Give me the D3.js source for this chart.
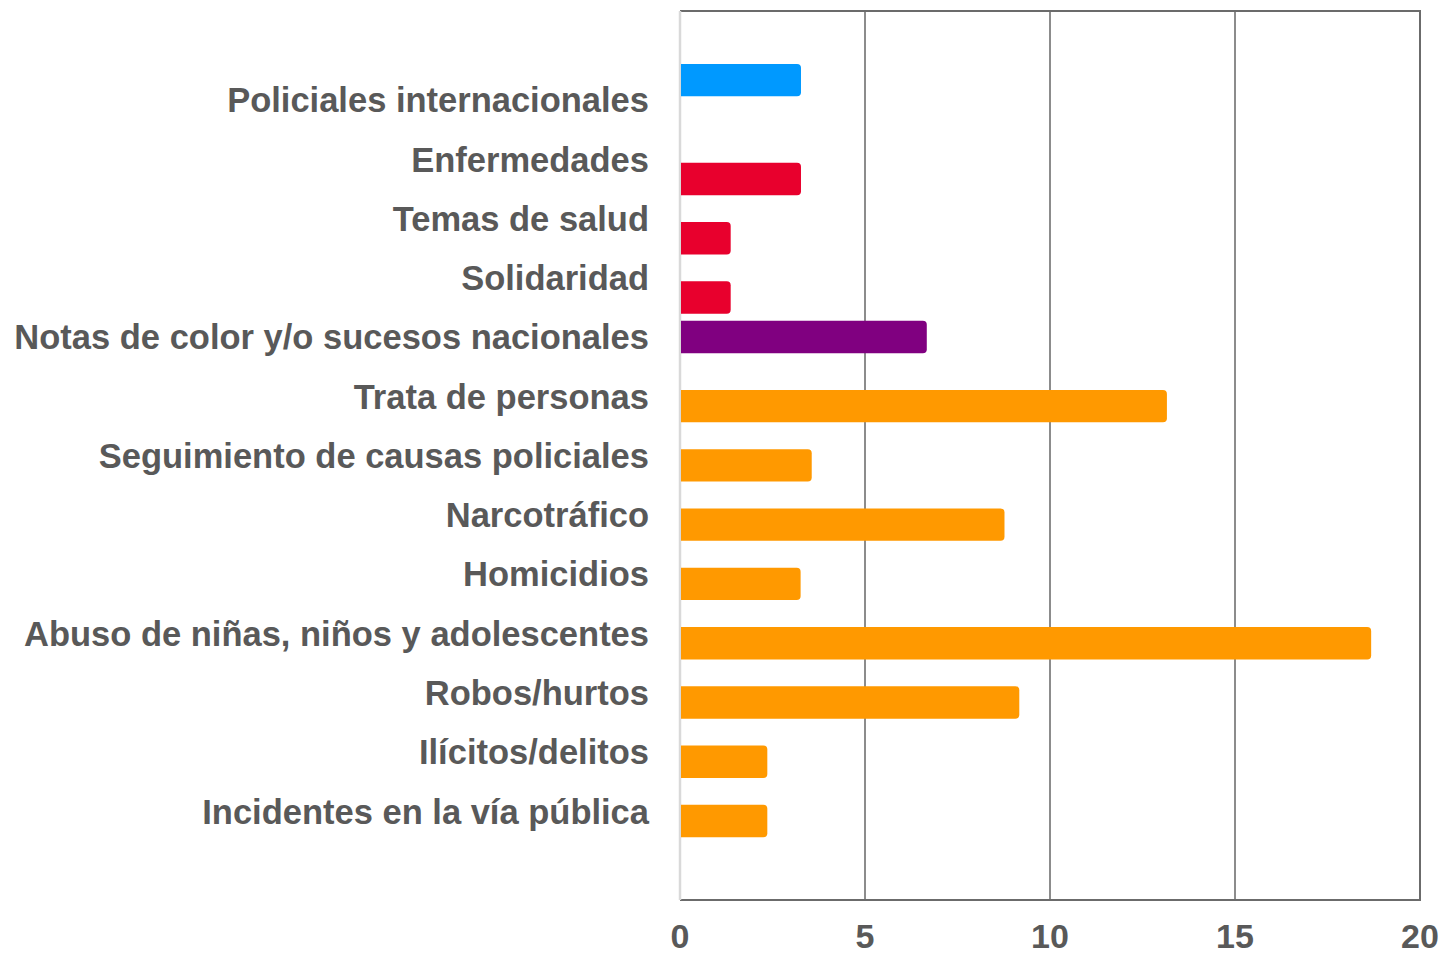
<!DOCTYPE html>
<meta charset="utf-8">
<style>
  body { margin: 0; background: #fff; }
  .cat text, .tick-label { font-family: "Liberation Sans", Arial, sans-serif; font-weight: 700; fill: #595959; }
</style>
<div id="chart"></div>
<script src="https://d3js.org/d3.v7.min.js"></script>
<script>

// categories, top to bottom
var categories = [
  "Policiales internacionales",
  "Enfermedades",
  "Temas de salud",
  "Solidaridad",
  "Notas de color y/o sucesos nacionales",
  "Trata de personas",
  "Seguimiento de causas policiales",
  "Narcotráfico",
  "Homicidios",
  "Abuso de niñas, niños y adolescentes",
  "Robos/hurtos",
  "Ilícitos/delitos",
  "Incidentes en la vía pública"
];
var values = [3.27, 3.27, 1.37, 1.37, 6.67, 13.16, 3.56, 8.77, 3.26, 18.68, 9.17, 2.36, 2.36];
// which group (colour) each bar belongs to
var groups = ["internacional", "salud", "salud", "salud", "nacional",
  "policial", "policial", "policial", "policial", "policial", "policial", "policial", "policial"];
var groupSlots = ["internacional", "", "nacional", "policial", "salud"];
var groupColors = { internacional: "#0099ff", salud: "#e8002d", nacional: "#800080", policial: "#ff9900" };
var xTicks = [0, 5, 10, 15, 20];

var data = categories.map(function(c, i) { return { cat: c, value: values[i], group: groups[i] }; });

var W = 1442, H = 956;
var margin = { top: 11, right: 22, bottom: 56, left: 680 };
var width = W - margin.left - margin.right,
    height = H - margin.top - margin.bottom;

var svg = d3.select("#chart").append("svg")
    .attr("width", W).attr("height", H)
  .append("g")
    .attr("transform", "translate(" + margin.left + "," + margin.top + ")");

var x = d3.scaleLinear().domain([0, 20]).range([0, width]);

var y = d3.scaleBand()
    .domain(categories)
    .range([0, height])
    .paddingInner(0)
    .paddingOuter(1);

// bars of the different groups sit at different offsets inside the band
var off = d3.scalePoint().domain(groupSlots).range([-y.step() / 3, y.step() / 3]);
var barH = y.step() * 0.547;

// gridlines
svg.selectAll(".grid")
  .data(xTicks.slice(1, -1))
  .enter().append("line")
    .attr("x1", function(d) { return x(d); })
    .attr("x2", function(d) { return x(d); })
    .attr("y1", 0).attr("y2", height)
    .attr("stroke", "#666").attr("stroke-width", 1.5);

// frame: top, right, bottom dark; left light
svg.append("path")
  .attr("d", "M0,0H" + x(20) + "V" + height + "H0")
  .attr("fill", "none").attr("stroke", "#6b6b6b").attr("stroke-width", 2);
svg.append("line")
  .attr("x1", 0).attr("x2", 0).attr("y1", 0).attr("y2", height)
  .attr("stroke", "#d9d9d9").attr("stroke-width", 2.5);

// bars, rounded on the right end
function barPath(d) {
  var x0 = x(0) + 1, x1 = x(d.value), r = 4;
  var yc = y(d.cat) + y.bandwidth() / 2 + off(d.group);
  var y0 = yc - barH / 2, y1 = yc + barH / 2;
  return "M" + x0 + "," + y0 + "H" + (x1 - r) +
    "Q" + x1 + "," + y0 + " " + x1 + "," + (y0 + r) +
    "V" + (y1 - r) +
    "Q" + x1 + "," + y1 + " " + (x1 - r) + "," + y1 +
    "H" + x0 + "Z";
}
svg.selectAll(".bar")
  .data(data)
  .enter().append("path")
    .attr("class", "bar")
    .attr("d", barPath)
    .attr("fill", function(d) { return groupColors[d.group]; });

// category labels
var yAxis = svg.append("g")
    .attr("class", "cat")
    .call(d3.axisLeft(y).tickSize(0).tickPadding(31));
yAxis.select(".domain").remove();
yAxis.selectAll("text")
    .style("font-size", "34.5px")
    .attr("dy", "0.36em");

// x tick labels
svg.selectAll(".tick-label")
  .data(xTicks)
  .enter().append("text")
    .attr("class", "tick-label")
    .attr("x", function(d) { return x(d); })
    .attr("y", height + 48)
    .attr("text-anchor", "middle")
    .style("font-size", "34px")
    .text(function(d) { return d; });

</script>
